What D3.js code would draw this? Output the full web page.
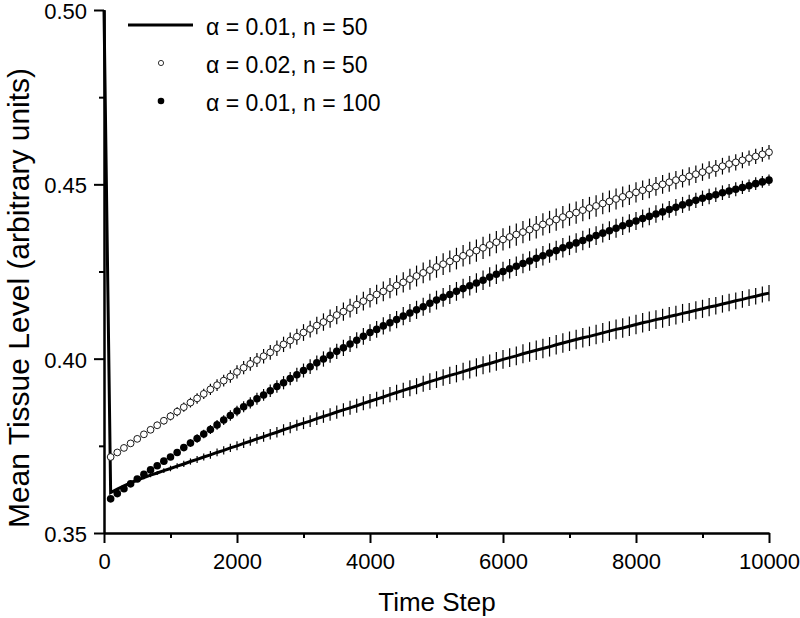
<!DOCTYPE html>
<html>
<head>
<meta charset="utf-8">
<script src="https://cdn.jsdelivr.net/npm/d3@7"></script>
<style>
  html, body { margin: 0; padding: 0; background: #fff; }
  svg text { font-family: "Liberation Sans", Arial, sans-serif; fill: #000; }
</style>
</head>
<body>
<svg id="chart" width="800" height="618"></svg>
<script>
// ---------------- data ----------------
const timeSteps = d3.range(100, 10001, 100);          // markers every 100 steps
const lineTimeSteps = [0].concat(timeSteps);           // solid series also has t = 0

const xMajorTicks = [0, 2000, 4000, 6000, 8000, 10000];
const xMinorTicks = [1000, 3000, 5000, 7000, 9000];
const yMajorTicks = [0.35, 0.40, 0.45, 0.50];
const yMinorTicks = [0.375, 0.425, 0.475];

const legendLabels = ["\u03b1 = 0.01, n = 50", "\u03b1 = 0.02, n = 50", "\u03b1 = 0.01, n = 100"];

// alpha = 0.01, n = 50 (solid line)
const meanA01n50 = [0.5000,
 0.3616,0.3626,0.3635,0.3644,0.3652,0.3659,0.3666,0.3672,0.3679,0.3685,
 0.3692,0.3698,0.3705,0.3711,0.3718,0.3724,0.3731,0.3737,0.3744,0.3750,
 0.3757,0.3763,0.3770,0.3776,0.3783,0.3789,0.3796,0.3802,0.3809,0.3815,
 0.3821,0.3828,0.3834,0.3840,0.3847,0.3853,0.3859,0.3865,0.3872,0.3878,
 0.3884,0.3890,0.3897,0.3903,0.3909,0.3915,0.3921,0.3928,0.3934,0.3940,
 0.3946,0.3952,0.3957,0.3963,0.3969,0.3975,0.3981,0.3986,0.3992,0.3998,
 0.4003,0.4008,0.4014,0.4019,0.4024,0.4029,0.4034,0.4040,0.4045,0.4050,
 0.4055,0.4060,0.4064,0.4069,0.4074,0.4079,0.4084,0.4088,0.4093,0.4098,
 0.4103,0.4107,0.4112,0.4116,0.4121,0.4125,0.4130,0.4134,0.4139,0.4143,
 0.4148,0.4152,0.4157,0.4161,0.4166,0.4170,0.4175,0.4179,0.4184,0.4188];
const errA01n50 = [0,
 0.0002,0.0003,0.0003,0.0004,0.0004,0.0005,0.0006,0.0006,0.0007,0.0008,
 0.0008,0.0009,0.0009,0.0010,0.0010,0.0011,0.0011,0.0012,0.0012,0.0013,
 0.0013,0.0013,0.0014,0.0014,0.0015,0.0015,0.0016,0.0016,0.0016,0.0017,
 0.0017,0.0018,0.0018,0.0018,0.0019,0.0019,0.0020,0.0020,0.0020,0.0021,
 0.0021,0.0021,0.0022,0.0022,0.0022,0.0023,0.0023,0.0023,0.0024,0.0024,
 0.0024,0.0025,0.0025,0.0025,0.0026,0.0026,0.0026,0.0026,0.0027,0.0027,
 0.0027,0.0027,0.0027,0.0028,0.0028,0.0028,0.0028,0.0028,0.0028,0.0028,
 0.0028,0.0028,0.0028,0.0028,0.0028,0.0028,0.0028,0.0028,0.0028,0.0028,
 0.0028,0.0028,0.0027,0.0027,0.0027,0.0027,0.0027,0.0026,0.0026,0.0026,
 0.0026,0.0025,0.0025,0.0025,0.0024,0.0024,0.0024,0.0024,0.0023,0.0023];

// alpha = 0.02, n = 50 (open circles)
const meanA02n50 = [
 0.3718,0.3731,0.3744,0.3757,0.3770,0.3783,0.3796,0.3809,0.3822,0.3835,
 0.3848,0.3861,0.3874,0.3886,0.3899,0.3912,0.3924,0.3937,0.3949,0.3962,
 0.3974,0.3985,0.3996,0.4007,0.4018,0.4030,0.4041,0.4052,0.4063,0.4075,
 0.4085,0.4095,0.4105,0.4115,0.4125,0.4135,0.4145,0.4155,0.4165,0.4175,
 0.4184,0.4193,0.4202,0.4210,0.4219,0.4228,0.4237,0.4246,0.4254,0.4263,
 0.4271,0.4279,0.4287,0.4295,0.4303,0.4310,0.4318,0.4326,0.4334,0.4342,
 0.4349,0.4356,0.4363,0.4370,0.4377,0.4385,0.4392,0.4399,0.4406,0.4413,
 0.4419,0.4426,0.4432,0.4438,0.4445,0.4451,0.4458,0.4464,0.4470,0.4477,
 0.4483,0.4488,0.4494,0.4500,0.4506,0.4512,0.4517,0.4523,0.4529,0.4535,
 0.4541,0.4546,0.4552,0.4558,0.4563,0.4569,0.4575,0.4580,0.4586,0.4592];
const errA02n50 = [
 0.0003,0.0004,0.0005,0.0006,0.0007,0.0008,0.0009,0.0010,0.0011,0.0012,
 0.0013,0.0013,0.0014,0.0015,0.0015,0.0016,0.0017,0.0017,0.0018,0.0019,
 0.0019,0.0020,0.0020,0.0021,0.0021,0.0022,0.0022,0.0023,0.0023,0.0024,
 0.0024,0.0025,0.0025,0.0026,0.0026,0.0026,0.0027,0.0027,0.0027,0.0028,
 0.0028,0.0028,0.0029,0.0029,0.0029,0.0030,0.0030,0.0030,0.0030,0.0031,
 0.0031,0.0031,0.0031,0.0031,0.0032,0.0032,0.0032,0.0032,0.0032,0.0032,
 0.0032,0.0032,0.0032,0.0032,0.0032,0.0032,0.0032,0.0032,0.0032,0.0032,
 0.0032,0.0032,0.0032,0.0031,0.0031,0.0031,0.0030,0.0030,0.0029,0.0029,
 0.0028,0.0028,0.0027,0.0027,0.0027,0.0026,0.0026,0.0026,0.0025,0.0025,
 0.0025,0.0024,0.0024,0.0024,0.0023,0.0023,0.0022,0.0022,0.0021,0.0021];

// alpha = 0.01, n = 100 (filled circles)
const meanA01n100 = [
 0.3598,0.3613,0.3627,0.3641,0.3655,0.3668,0.3681,0.3693,0.3706,0.3718,
 0.3731,0.3745,0.3758,0.3771,0.3784,0.3797,0.3810,0.3824,0.3837,0.3850,
 0.3862,0.3873,0.3885,0.3896,0.3908,0.3920,0.3931,0.3943,0.3954,0.3966,
 0.3977,0.3988,0.3999,0.4010,0.4021,0.4031,0.4042,0.4053,0.4064,0.4075,
 0.4084,0.4094,0.4103,0.4112,0.4122,0.4131,0.4140,0.4149,0.4159,0.4168,
 0.4176,0.4184,0.4193,0.4201,0.4209,0.4217,0.4225,0.4234,0.4242,0.4250,
 0.4258,0.4265,0.4273,0.4280,0.4288,0.4295,0.4303,0.4310,0.4318,0.4325,
 0.4332,0.4339,0.4346,0.4353,0.4360,0.4367,0.4374,0.4381,0.4388,0.4395,
 0.4402,0.4408,0.4415,0.4421,0.4428,0.4434,0.4441,0.4447,0.4454,0.4460,
 0.4465,0.4470,0.4476,0.4481,0.4486,0.4491,0.4496,0.4502,0.4507,0.4512];
const errA01n100 = [
 0.0002,0.0003,0.0004,0.0004,0.0005,0.0006,0.0007,0.0007,0.0008,0.0009,
 0.0010,0.0010,0.0011,0.0012,0.0012,0.0013,0.0014,0.0014,0.0015,0.0015,
 0.0016,0.0016,0.0017,0.0017,0.0018,0.0018,0.0019,0.0019,0.0020,0.0020,
 0.0021,0.0021,0.0022,0.0022,0.0022,0.0023,0.0023,0.0023,0.0024,0.0024,
 0.0024,0.0025,0.0025,0.0025,0.0026,0.0026,0.0026,0.0026,0.0027,0.0027,
 0.0027,0.0027,0.0027,0.0028,0.0028,0.0028,0.0028,0.0028,0.0028,0.0028,
 0.0028,0.0028,0.0028,0.0028,0.0028,0.0028,0.0028,0.0028,0.0028,0.0028,
 0.0028,0.0028,0.0028,0.0027,0.0027,0.0027,0.0027,0.0026,0.0026,0.0026,
 0.0026,0.0025,0.0025,0.0024,0.0024,0.0024,0.0023,0.0023,0.0022,0.0022,
 0.0022,0.0021,0.0021,0.0020,0.0020,0.0019,0.0018,0.0018,0.0017,0.0016];

// ---------------- drawing ----------------
const svg = d3.select("#chart");
const x = d3.scaleLinear().domain([0, 10000]).range([104, 769]);
const y = d3.scaleLinear().domain([0.35, 0.50]).range([533, 10]);

const lineData = lineTimeSteps.map((t, i) => ({t, m: meanA01n50[i], e: errA01n50[i]}));
const openData = timeSteps.map((t, i) => ({t, m: meanA02n50[i], e: errA02n50[i]}));
const fillData = timeSteps.map((t, i) => ({t, m: meanA01n100[i], e: errA01n100[i]}));

const plot = svg.append("g");

function errorBars(data, color) {
  plot.append("g").selectAll("line").data(data.filter(d => d.e > 0)).join("line")
    .attr("x1", d => x(d.t)).attr("x2", d => x(d.t))
    .attr("y1", d => y(d.m - d.e)).attr("y2", d => y(d.m + d.e))
    .attr("stroke", color).attr("stroke-width", 1.2);
}

// solid line series
plot.append("path").datum(lineData)
  .attr("fill", "none").attr("stroke", "#000").attr("stroke-width", 3)
  .attr("stroke-linejoin", "miter")
  .attr("d", d3.line().x(d => x(d.t)).y(d => y(d.m)));
errorBars(lineData, "#000");

// open circles
errorBars(openData, "#000");
plot.append("g").selectAll("circle").data(openData).join("circle")
  .attr("cx", d => x(d.t)).attr("cy", d => y(d.m)).attr("r", 3.4)
  .attr("fill", "#fff").attr("stroke", "#000").attr("stroke-width", 0.9);

// filled circles
errorBars(fillData, "#000");
plot.append("g").selectAll("circle").data(fillData).join("circle")
  .attr("cx", d => x(d.t)).attr("cy", d => y(d.m)).attr("r", 3.8)
  .attr("fill", "#000");

// axes
function styleAxis(g) {
  g.select(".domain").attr("stroke-width", 2);
  g.selectAll(".tick line").attr("stroke-width", 2);
  g.selectAll(".tick text").style("font-size", "22px").style("font-family", "'Liberation Sans', Arial, sans-serif");
}
const xAxis = svg.append("g").attr("transform", "translate(0,533)")
  .call(d3.axisBottom(x).tickValues(xMajorTicks).tickFormat(d3.format("d")).tickSize(10).tickSizeOuter(0).tickPadding(10));
styleAxis(xAxis);
const xMinor = svg.append("g").attr("transform", "translate(0,533)")
  .call(d3.axisBottom(x).tickValues(xMinorTicks).tickFormat("").tickSize(5).tickSizeOuter(0));
styleAxis(xMinor);

const yAxis = svg.append("g").attr("transform", "translate(104,0)")
  .call(d3.axisLeft(y).tickValues(yMajorTicks).tickFormat(d3.format(".2f")).tickSize(10).tickSizeOuter(0).tickPadding(7));
styleAxis(yAxis);
yAxis.selectAll(".tick text").attr("dy", "0.39em");
const yMinor = svg.append("g").attr("transform", "translate(104,0)")
  .call(d3.axisLeft(y).tickValues(yMinorTicks).tickFormat("").tickSize(5).tickSizeOuter(0));
styleAxis(yMinor);

// axis titles
svg.append("text").attr("x", 437).attr("y", 611).attr("text-anchor", "middle")
  .style("font-size", "26px").text("Time Step");
svg.append("text").attr("transform", "translate(29,298) rotate(-90)").attr("text-anchor", "middle")
  .style("font-size", "30px").text("Mean Tissue Level (arbitrary units)");

// legend
const leg = svg.append("g");
const rowY = [25, 63, 101];
leg.append("line").attr("x1", 128).attr("x2", 193).attr("y1", rowY[0]).attr("y2", rowY[0])
  .attr("stroke", "#000").attr("stroke-width", 2.8);
leg.append("circle").attr("cx", 161).attr("cy", rowY[1]).attr("r", 2.6)
  .attr("fill", "#fff").attr("stroke", "#000").attr("stroke-width", 0.8);
leg.append("circle").attr("cx", 161).attr("cy", rowY[2]).attr("r", 3.3).attr("fill", "#000");
leg.selectAll("text").data(legendLabels).join("text")
  .attr("x", 206).attr("y", (d, i) => rowY[i] + 10)
  .style("font-size", "23px").text(d => d);
</script>
</body>
</html>
